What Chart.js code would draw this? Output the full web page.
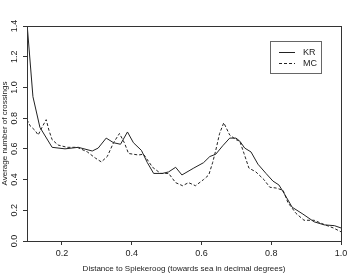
<!DOCTYPE html>
<html><head><meta charset="utf-8">
<script src="https://cdn.jsdelivr.net/npm/chart.js@4"></script>
<style>html,body{margin:0;padding:0;background:#fff}#wrap{width:354px;height:274px}</style>
</head><body><div id="wrap"><canvas id="c" width="354" height="274"></canvas></div>
<script>
const krX = [0.100,0.117,0.137,0.172,0.209,0.247,0.287,0.304,0.327,0.348,0.368,0.388,0.405,0.428,0.445,0.463,0.488,0.506,0.526,0.544,0.578,0.606,0.624,0.641,0.661,0.681,0.699,0.710,0.724,0.742,0.762,0.785,0.805,0.822,0.837,0.860,0.891,0.923,0.952,0.981,1.000];
const krY = [1.42,0.94,0.74,0.61,0.60,0.61,0.586,0.605,0.67,0.64,0.63,0.71,0.64,0.59,0.51,0.44,0.44,0.45,0.48,0.43,0.475,0.51,0.55,0.565,0.62,0.67,0.67,0.65,0.605,0.58,0.50,0.44,0.39,0.365,0.31,0.22,0.175,0.125,0.105,0.10,0.085];
const mcX = [0.100,0.109,0.123,0.132,0.143,0.155,0.163,0.172,0.189,0.215,0.244,0.273,0.296,0.313,0.330,0.348,0.365,0.379,0.391,0.419,0.434,0.460,0.483,0.506,0.526,0.546,0.563,0.583,0.606,0.621,0.632,0.641,0.652,0.664,0.681,0.699,0.710,0.722,0.736,0.756,0.779,0.796,0.814,0.834,0.848,0.871,0.894,0.923,0.949,0.978,1.000];
const mcY = [0.79,0.75,0.72,0.69,0.74,0.79,0.72,0.66,0.625,0.61,0.61,0.58,0.54,0.515,0.55,0.64,0.70,0.64,0.57,0.56,0.565,0.48,0.44,0.44,0.38,0.36,0.38,0.36,0.40,0.43,0.51,0.59,0.70,0.77,0.69,0.66,0.65,0.57,0.475,0.45,0.40,0.35,0.345,0.33,0.25,0.18,0.135,0.135,0.11,0.085,0.06];
const xTicks = [0.2,0.4,0.6,0.8,1.0];
const yTicks = [0.0,0.2,0.4,0.6,0.8,1.0,1.2,1.4];
const seriesNames = ['KR','MC'];
const xTitle = 'Distance to Spiekeroog (towards sea in decimal degrees)';
const yTitle = 'Average number of crossings';

const FONT = 'Liberation Sans, Arial, sans-serif';
const INK = '#222';

const framePlugin = {
  id:'frame',
  afterDraw(chart){
    const {ctx, chartArea:a, scales} = chart;
    ctx.save();
    ctx.strokeStyle = '#333'; ctx.lineWidth = 1;
    ctx.strokeRect(Math.round(a.left)+0.5, Math.round(a.top)+0.5, Math.round(a.right-a.left), Math.round(a.bottom-a.top));
    // rotated y tick labels
    const ys = scales.y;
    ctx.fillStyle = INK; ctx.font = '9px ' + FONT;
    ctx.textAlign = 'center'; ctx.textBaseline = 'middle';
    yTicks.forEach(v => {
      const py = ys.getPixelForValue(v);
      ctx.save(); ctx.translate(15, py); ctx.rotate(-Math.PI/2);
      ctx.fillText(v.toFixed(1), 0, 0); ctx.restore();
    });
    // legend
    const bx = 270.5, by = 41.5, bw = 51, bh = 32;
    ctx.fillStyle = '#fff'; ctx.fillRect(bx, by, bw, bh);
    ctx.strokeStyle = '#666'; ctx.strokeRect(bx, by, bw, bh);
    chart.data.datasets.forEach((ds, i) => {
      const ly = 52.5 + i*11;
      ctx.strokeStyle = ds.borderColor; ctx.lineWidth = 1;
      ctx.setLineDash(ds.borderDash || []);
      ctx.beginPath(); ctx.moveTo(279, ly); ctx.lineTo(295, ly); ctx.stroke();
      ctx.setLineDash([]);
      ctx.fillStyle = INK; ctx.textAlign = 'left';
      ctx.fillText(ds.label, 303, ly);
    });
    ctx.restore();
  }
};

new Chart(document.getElementById('c'), {
  type:'line',
  data:{
    datasets:[
      {label:seriesNames[0], data:krX.map((x,i)=>({x, y:krY[i]})), borderColor:INK, borderWidth:1, pointRadius:0, tension:0, fill:false},
      {label:seriesNames[1], data:mcX.map((x,i)=>({x, y:mcY[i]})), borderColor:INK, borderWidth:1, borderDash:[3,2], pointRadius:0, tension:0, fill:false}
    ]
  },
  options:{
    responsive:false, animation:false, devicePixelRatio:1,
    layout:{padding:{top:26, right:13, left:0, bottom:0}},
    plugins:{legend:{display:false}, tooltip:{enabled:false}},
    scales:{
      x:{type:'linear', min:0.1, max:1.0,
        afterBuildTicks(s){ s.ticks = xTicks.map(v=>({value:v})); },
        afterFit(s){ s.height = 33; },
        grid:{display:true, drawOnChartArea:false, drawTicks:true, tickLength:4, color:'#333'},
        border:{display:true, color:'#333'},
        ticks:{color:INK, font:{family:FONT, size:9}, padding:3, maxRotation:0, callback:v=>Number(v).toFixed(1)},
        title:{display:true, text:xTitle, color:INK, font:{family:FONT, size:8}, padding:{top:3, bottom:0}}
      },
      y:{type:'linear', min:0, max:1.4,
        afterBuildTicks(s){ s.ticks = yTicks.map(v=>({value:v})); },
        afterFit(s){ s.width = 27; },
        grid:{display:true, drawOnChartArea:false, drawTicks:true, tickLength:4, color:'#333'},
        border:{display:true, color:'#333'},
        ticks:{display:false},
        title:{display:true, text:yTitle, color:INK, font:{family:FONT, size:8}, padding:{top:0, bottom:0}}
      }
    }
  },
  plugins:[framePlugin]
});
</script></body></html>
